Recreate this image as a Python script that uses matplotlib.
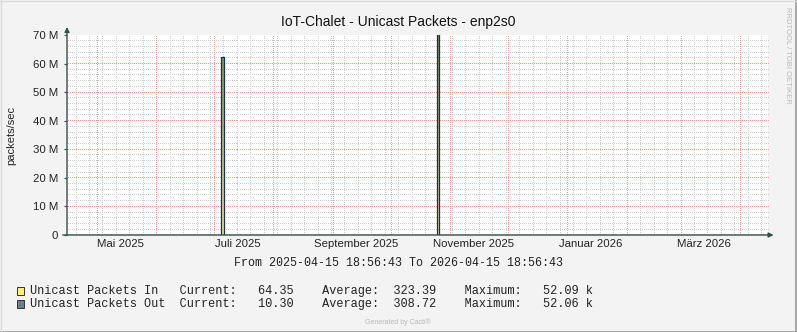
import datetime as dt
import numpy as np
import matplotlib
matplotlib.use('Agg')
import matplotlib.pyplot as plt
from matplotlib.colors import LinearSegmentedColormap
from matplotlib.lines import Line2D
from matplotlib.patches import Rectangle

W, H = 797, 332
start = dt.datetime(2025, 4, 15, 18, 56, 43)
end = dt.datetime(2026, 4, 15, 18, 56, 43)

# sample times (days after start), each rate is held until the next sample
t_days = [0, 80.2, 81.7, 192.5, 193.7, 365]
pkts_in = [0, 62.2e6, 0, 70.5e6, 0, 0]
pkts_out = [0, 62.4e6, 0, 70.5e6, 0, 0]

y_ticks = [0, 10e6, 20e6, 30e6, 40e6, 50e6, 60e6, 70e6]
y_labels = ['0', '10 M', '20 M', '30 M', '40 M', '50 M', '60 M', '70 M']
label_months = [(2025, 5), (2025, 7), (2025, 9), (2025, 11), (2026, 1), (2026, 3)]
month_labels = ['Mai 2025', 'Juli 2025', 'September 2025', 'November 2025',
                'Januar 2026', 'März 2026']

legend_names = ['Unicast Packets In', 'Unicast Packets Out']
legend_current = ['64.35', '10.30']
legend_average = ['323.39', '308.72']
legend_maximum = ['52.09 k', '52.06 k']
legend_colors = ['#FBF36E', '#6D7F8C']

axis_col = '#33524A'
sans = ['Liberation Sans', 'DejaVu Sans']
mono = ['Liberation Mono', 'DejaVu Sans Mono']


def days(d):
    return (d - start).total_seconds() / 86400.0


def px(x, y):
    return x / W, 1 - y / H


AXW, AXH = 701, 200
fig = plt.figure(figsize=(W / 100, H / 100), dpi=100, facecolor='#F3F3F3')
ax = fig.add_axes([67 / W, 97 / H, AXW / W, AXH / H])
ax.set_facecolor('white')
span = days(end)
ymax = 70e6
for s in ax.spines.values():
    s.set_visible(False)

# dotted grid drawn pixel by pixel (1 on / 1 off)
dots_y = (np.arange(0, AXH, 2) + 0.5) * ymax / AXH
dots_x = (np.arange(0, AXW, 2) + 0.5) * span / AXW


def snap_x(t):
    return (np.floor(t / span * AXW) + 0.5) * span / AXW


def snap_y(v):
    return (np.floor(v / ymax * AXH) + 0.5) * ymax / AXH


def grid_dots(xs, ys, color, z):
    gx, gy = [], []
    for t in xs:
        gx.append(np.full_like(dots_y, snap_x(t)))
        gy.append(dots_y)
    for v in ys:
        gx.append(dots_x)
        gy.append(np.full_like(dots_x, snap_y(v)))
    ax.plot(np.concatenate(gx), np.concatenate(gy), ',', color=color, zorder=z)


weeks = []
d = dt.datetime(2025, 4, 20)
while d < end:
    weeks.append(days(d))
    d += dt.timedelta(days=7)
month_starts = []
for k in range(12):
    m = 5 + k
    month_starts.append(days(dt.datetime(2025 + (m - 1) // 12, (m - 1) % 12 + 1, 1)))
grid_dots(weeks, np.arange(2e6, 70.1e6, 2e6), '#CCCCCC', 0.2)
grid_dots(month_starts, y_ticks[1:], '#EE9A9A', 0.5)

# In: gradient area, Out: line
poly = ax.fill_between(t_days, pkts_in, step='post', color='none', lw=0, zorder=2)
cmap = LinearSegmentedColormap.from_list('grad', ['#E6E2A6', '#7C8C5C'])
grad = np.linspace(0, 1, 256).reshape(-1, 1)
im = ax.imshow(grad, extent=[0, span, 0, ymax], origin='lower', aspect='auto',
               cmap=cmap, zorder=2)
im.set_clip_path(poly.get_paths()[0], transform=ax.transData)
ax.step(t_days, pkts_out, where='post', color='#1B2E4C', lw=0.9, zorder=3)
ax.set_xlim(0, span)
ax.set_ylim(0, ymax)

# ticks
ax.set_yticks(y_ticks)
ax.set_yticklabels(y_labels, fontfamily=sans, fontsize=8.2, color='#222222')
ax.tick_params(axis='y', length=2.5, width=0.8, color=axis_col, pad=4)
ax.set_xticks([days(dt.datetime(y, m, 1)) + 12.5 for y, m in label_months])
ax.set_xticklabels(month_labels, fontfamily=sans, fontsize=8.2, color='#222222')
ax.tick_params(axis='x', length=0, pad=3)

# axes with arrows
ax.annotate('', xy=(1.008, 0), xytext=(-0.006, 0), xycoords='axes fraction',
            arrowprops=dict(arrowstyle='-|>', color=axis_col, lw=1.0,
                            mutation_scale=7, shrinkA=0, shrinkB=0), zorder=5)
ax.annotate('', xy=(0, 1.04), xytext=(0, 0), xycoords='axes fraction',
            arrowprops=dict(arrowstyle='-|>', color=axis_col, lw=1.0,
                            mutation_scale=7, shrinkA=0, shrinkB=0), zorder=5)

# texts
fig.text(*px(398, 22), 'IoT-Chalet - Unicast Packets - enp2s0', ha='center', va='center',
         fontfamily=sans, fontsize=10, color='#111111')
fig.text(*px(11, 135), 'packets/sec', ha='center', va='center', rotation=90,
         fontfamily=sans, fontsize=8, color='#222222')
fig.text(*px(787, 55), 'RRDTOOL / TOBI OETIKER', ha='center', va='center', rotation=270,
         fontfamily=sans, fontsize=5.5, color='#B8B8B8')
fig.text(*px(398, 263), 'From 2025-04-15 18:56:43 To 2026-04-15 18:56:43', ha='center',
         va='center', fontfamily=mono, fontsize=8.4, color='#222222')

rows_y = [291, 304]
for i in range(2):
    y = rows_y[i]
    fig.patches.append(Rectangle(px(17, y + 4), 7 / W, 8 / H, transform=fig.transFigure,
                                 facecolor=legend_colors[i], edgecolor='#333333', lw=0.7))
    row = '%-21sCurrent:  %6s    Average:  %6s    Maximum:  %8s' % (
        legend_names[i], legend_current[i], legend_average[i], legend_maximum[i])
    fig.text(*px(30, y), row, ha='left', va='center', fontfamily=mono,
             fontsize=8.52, color='#222222')

fig.text(*px(398, 322), 'Generated by Cacti®', ha='center', va='center',
         fontfamily=sans, fontsize=5, color='#B8B8B8')

# frame
fig.lines.append(Line2D([0, 1], [0.5 / H, 0.5 / H], transform=fig.transFigure, color='#999999', lw=1.2))
fig.lines.append(Line2D([1 - 1 / W, 1 - 1 / W], [0, 1], transform=fig.transFigure, color='#999999', lw=1.2))
fig.lines.append(Line2D([0, 1], [1 - 0.5 / H, 1 - 0.5 / H], transform=fig.transFigure, color='#DADADA', lw=1))
fig.lines.append(Line2D([0.5 / W, 0.5 / W], [0, 1], transform=fig.transFigure, color='#DADADA', lw=1))

fig.savefig('out.png', dpi=100, facecolor=fig.get_facecolor())
